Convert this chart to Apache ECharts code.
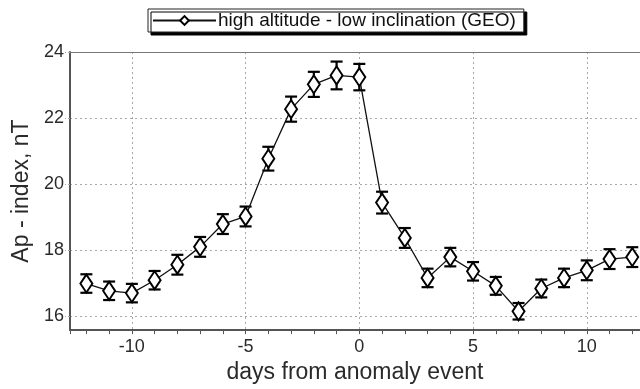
<!DOCTYPE html>
<html>
<head>
<meta charset="utf-8">
<script src="https://cdn.jsdelivr.net/npm/echarts@6/dist/echarts.min.js"></script>
<style>
  html, body { margin: 0; padding: 0; background: #fff; }
  #chart { width: 640px; height: 389px; }
</style>
</head>
<body>
<div id="chart"></div>
<script>
// Days relative to the anomaly event
const days = [-12, -11, -10, -9, -8, -7, -6, -5, -4, -3, -2, -1, 0, 1, 2, 3, 4, 5, 6, 7, 8, 9, 10, 11, 12];
// Mean Ap-index (nT) for each day
const apIndex = [16.99, 16.77, 16.70, 17.09, 17.56, 18.10, 18.79, 19.02, 20.77, 22.27, 23.02, 23.29, 23.24,
                 19.44, 18.37, 17.16, 17.79, 17.36, 16.92, 16.15, 16.84, 17.16, 17.39, 17.73, 17.79];
// Half-width of the error bar for each day
const apError = [0.28, 0.28, 0.28, 0.28, 0.30, 0.30, 0.30, 0.30, 0.36, 0.38, 0.38, 0.42, 0.40,
                 0.33, 0.30, 0.28, 0.28, 0.28, 0.27, 0.25, 0.27, 0.28, 0.30, 0.30, 0.30];

const seriesName = 'high altitude - low inclination (GEO)';
const xTitle = 'days from anomaly event';
const yTitle = 'Ap - index, nT';

const points = days.map((d, i) => [d, apIndex[i]]);
const bars = days.map((d, i) => [d, apIndex[i] - apError[i], apIndex[i] + apError[i]]);

const chart = echarts.init(document.getElementById('chart'), null, { renderer: 'canvas' });

const font = 'Liberation Sans, Arial, sans-serif';
const xMin = -12.72, xMax = 12.34;

chart.setOption({
  animation: false,
  backgroundColor: '#fff',
  textStyle: { fontFamily: font },
  grid: { left: 70, right: 0, top: 52, bottom: 54, containLabel: false },
  legend: {
    data: [seriesName],
    left: 148, top: 9,
    padding: [2, 8, 2, 4],
    itemWidth: 63, itemHeight: 11, itemGap: 0,
    backgroundColor: '#fff',
    borderColor: '#222', borderWidth: 1, borderRadius: 0,
    shadowColor: '#000', shadowBlur: 0, shadowOffsetX: 3, shadowOffsetY: 3,
    textStyle: { fontFamily: font, fontSize: 19, color: '#111', padding: [0, 0, 0, -3] }
  },
  xAxis: [
    {
      type: 'value', min: xMin, max: xMax, splitNumber: 5, position: 'bottom',
      axisLine: { show: true, onZero: false, lineStyle: { color: '#555', width: 2 } },
      axisTick: { show: false },
      axisLabel: { fontSize: 18, color: '#2a2a2a', margin: 8, showMinLabel: false, showMaxLabel: false },
      splitLine: { show: true, lineStyle: { color: '#a8a8a8', type: [2, 3], width: 1 } },
      name: xTitle, nameLocation: 'middle', nameGap: 28,
      nameTextStyle: { fontSize: 23, color: '#2a2a2a', fontFamily: font }
    },
    {
      // unit ticks along the bottom edge
      type: 'value', min: xMin, max: xMax, splitNumber: 25, position: 'bottom',
      axisLine: { show: false, onZero: false },
      axisTick: { show: true, length: 4, lineStyle: { color: '#555', width: 1 } },
      axisLabel: { show: false },
      splitLine: { show: false }
    },
    {
      // upper frame line
      type: 'value', min: xMin, max: xMax, position: 'top',
      axisLine: { show: true, onZero: false, lineStyle: { color: '#777', width: 1 } },
      axisTick: { show: false }, axisLabel: { show: false }, splitLine: { show: false }
    }
  ],
  yAxis: {
    type: 'value', min: 15.58, max: 24, splitNumber: 4,
    axisLine: { show: true, onZero: false, lineStyle: { color: '#555', width: 2 } },
    axisTick: { show: true, length: 5, lineStyle: { color: '#a8a8a8', type: [2, 2] } },
    axisLabel: { fontSize: 18, color: '#2a2a2a', margin: 6, showMinLabel: false },
    splitLine: { show: true, lineStyle: { color: '#a8a8a8', type: [2, 3], width: 1 } },
    name: yTitle, nameLocation: 'middle', nameGap: 33, nameRotate: 90,
    nameTextStyle: { fontSize: 23, color: '#2a2a2a', fontFamily: font }
  },
  series: [
    {
      name: 'error',
      type: 'custom',
      xAxisIndex: 0, yAxisIndex: 0,
      z: 2,
      data: bars,
      renderItem: function (params, api) {
        const x = api.value(0);
        const lo = api.coord([x, api.value(1)]);
        const hi = api.coord([x, api.value(2)]);
        const hw = 6;
        const st = { stroke: '#000', lineWidth: 2.2 };
        return {
          type: 'group',
          children: [
            { type: 'line', shape: { x1: lo[0], y1: lo[1], x2: hi[0], y2: hi[1] }, style: st },
            { type: 'line', shape: { x1: lo[0] - hw, y1: lo[1], x2: lo[0] + hw, y2: lo[1] }, style: st },
            { type: 'line', shape: { x1: hi[0] - hw, y1: hi[1], x2: hi[0] + hw, y2: hi[1] }, style: st }
          ]
        };
      }
    },
    {
      name: seriesName,
      type: 'line',
      xAxisIndex: 0, yAxisIndex: 0,
      z: 3,
      data: points,
      symbol: 'diamond',
      symbolSize: [12, 18],
      showAllSymbol: true,
      lineStyle: { color: '#111', width: 1.3 },
      itemStyle: { color: '#fff', borderColor: '#000', borderWidth: 2 }
    }
  ]
});
</script>
</body>
</html>
